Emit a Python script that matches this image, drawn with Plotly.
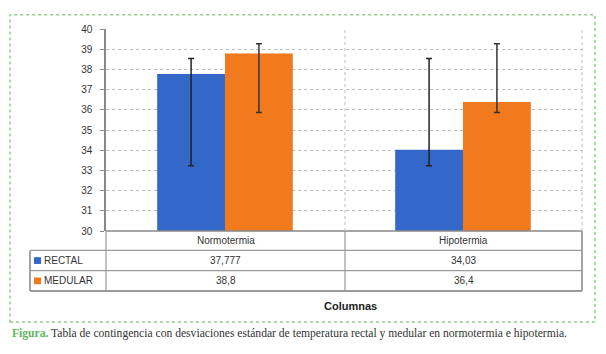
import plotly.graph_objects as go

categories = ["Normotermia", "Hipotermia"]
series_names = ["RECTAL", "MEDULAR"]
rectal = [37.777, 34.03]
medular = [38.8, 36.4]
rectal_labels = ["37,777", "34,03"]
medular_labels = ["38,8", "36,4"]
# error bar ends
rectal_err_hi = [38.55, 38.55]
rectal_err_lo = [33.24, 33.24]
medular_err_hi = [39.28, 39.28]
medular_err_lo = [35.88, 35.88]
y_ticks = list(range(30, 41))

BLUE = "#3468c8"
ORANGE = "#f27a1e"
W, H = 606, 354

def px(x):
    return x / W

def py(y):
    return 1 - y / H

x0, x1 = 106, 582
y_top, y_bot = 24, 233

fig = go.Figure()
series = [(series_names[0], rectal, rectal_err_hi, rectal_err_lo, BLUE, "#222"),
          (series_names[1], medular, medular_err_hi, medular_err_lo, ORANGE, "#333")]
for name, vals, hi, lo, col, ecol in series:
    fig.add_trace(go.Bar(
        x=categories, y=vals, name=name, marker=dict(color=col, line=dict(width=0)),
        error_y=dict(type="data", symmetric=False,
                     array=[h - v for h, v in zip(hi, vals)],
                     arrayminus=[v - l for v, l in zip(vals, lo)],
                     color=ecol, thickness=1.5, width=3),
        showlegend=False))

fig.update_layout(
    width=W, height=H, margin=dict(l=0, r=0, t=0, b=0),
    paper_bgcolor="white", plot_bgcolor="white",
    barmode="group", bargap=0.43, bargroupgap=0,
    font=dict(family="Liberation Sans, Arial", size=10, color="#333"),
    xaxis=dict(domain=[px(x0), px(x1)], range=[-0.5, 1.5], showticklabels=False,
               showgrid=False, zeroline=False, showline=False, fixedrange=True),
    yaxis=dict(domain=[py(y_bot), py(y_top)], range=[30, 40], tickvals=y_ticks,
               showgrid=True, gridcolor="#bcbcbc", griddash="dot", gridwidth=1,
               ticks="outside", ticklen=4, tickcolor="#888",
               showline=True, linecolor="#888", linewidth=1.5, zeroline=False,
               tickfont=dict(size=10, color="#333"), ticklabelstandoff=6),
)

shapes = []
# outer green dotted frame
shapes.append(dict(type="rect", xref="paper", yref="paper", x0=px(10), x1=px(595),
                   y0=py(327), y1=py(9), line=dict(color="#8fd08a", width=1.5, dash="dot")))
# x axis line
shapes.append(dict(type="line", xref="paper", yref="paper", x0=px(x0), x1=px(x1),
                   y0=py(y_bot), y1=py(y_bot), line=dict(color="#888", width=1.5)))
# vertical dotted gridlines (category divider, right edge)
for xv in [345, x1]:
    shapes.append(dict(type="line", xref="paper", yref="paper", x0=px(xv), x1=px(xv),
                       y0=py(y_bot), y1=py(y_top), line=dict(color="#bcbcbc", width=1, dash="dot")))
# table
tcol = "#9a9a9a"
r0, r1, r2, r3 = y_bot, 253, 274, 295
tl = 30
def hline(xa, xb, y, w=1.2):
    shapes.append(dict(type="line", xref="paper", yref="paper", x0=px(xa), x1=px(xb),
                       y0=py(y), y1=py(y), line=dict(color=tcol, width=w)))
def vline(x, ya, yb, w=1.2):
    shapes.append(dict(type="line", xref="paper", yref="paper", x0=px(x), x1=px(x),
                       y0=py(ya), y1=py(yb), line=dict(color=tcol, width=w)))
hline(tl, x1, r1)
hline(tl, x1, r2)
hline(tl, x1, r3, 1.8)
vline(tl, r1, r3, 1.8)
vline(x0, r0, r3)
vline(345, r0, r3)
vline(x1, r0, r3, 1.8)
# legend keys
for i, col in enumerate([BLUE, ORANGE]):
    ymid = (r1 + r2) / 2 if i == 0 else (r2 + r3) / 2
    shapes.append(dict(type="rect", xref="paper", yref="paper", x0=px(34), x1=px(41),
                       y0=py(ymid + 3.5), y1=py(ymid - 3.5), fillcolor=col, line=dict(width=0)))
fig.update_layout(shapes=shapes)

ann = []
def text(x, y, s, size=10, color="#333", xanchor="center", family=None, bold=False):
    f = dict(size=size, color=color)
    if family:
        f["family"] = family
    ann.append(dict(xref="paper", yref="paper", x=px(x), y=py(y), text=("<b>%s</b>" % s) if bold else s,
                    showarrow=False, xanchor=xanchor, yanchor="middle", font=f))
centers = [(x0 + 345) / 2, (345 + x1) / 2]
for c, cat in zip(centers, categories):
    text(c, (r0 + r1) / 2, cat)
for c, lab in zip(centers, rectal_labels):
    text(c, (r1 + r2) / 2, lab)
for c, lab in zip(centers, medular_labels):
    text(c, (r2 + r3) / 2, lab)
text(42, (r1 + r2) / 2, series_names[0], xanchor="left")
text(42, (r2 + r3) / 2, series_names[1], xanchor="left")
text(350, 311, "Columnas", size=11, color="#222", bold=True)
ann.append(dict(xref="paper", yref="paper", x=px(10), y=py(339), xanchor="left", yanchor="middle",
                showarrow=False,
                text="<b><span style='color:#5cb85c'>Figura.</span></b> Tabla de contingencia con desviaciones estándar de temperatura rectal y medular en normotermia e hipotermia.",
                font=dict(family="Liberation Serif, Times New Roman", size=11.6, color="#333")))
fig.update_layout(annotations=ann)

fig.write_html("out.html")
